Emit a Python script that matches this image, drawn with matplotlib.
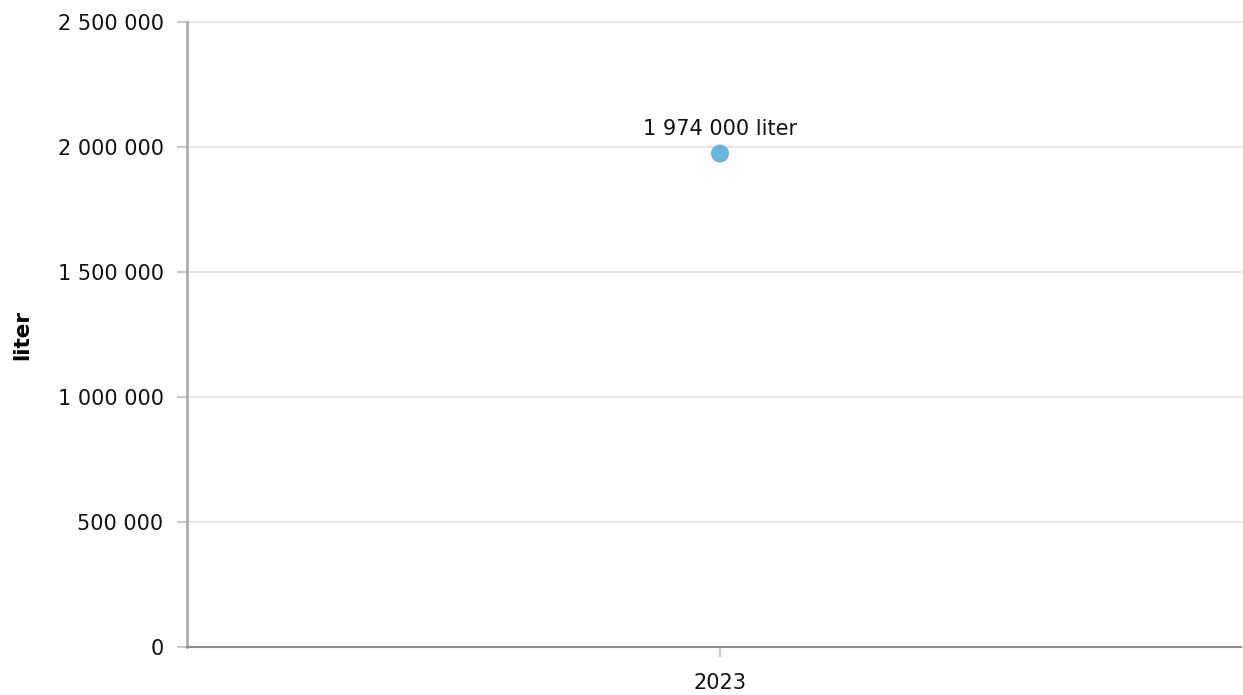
import matplotlib
matplotlib.use("Agg")
import matplotlib.pyplot as plt
from matplotlib.ticker import FuncFormatter

categories = ["2023"]
values = [1974000]
unit = "liter"
y_ticks = [0, 500000, 1000000, 1500000, 2000000, 2500000]

def fmt(v):
    return f"{int(v):,}".replace(",", " ")

plt.rcParams['font.family'] = ['DejaVu Sans']
fig = plt.figure(figsize=(12.43, 6.95), dpi=100)
W, H = 1243, 695
ax = fig.add_axes([187 / W, (H - 647) / H, (1241 - 187) / W, (647 - 22) / H])

x = list(range(len(categories)))
ax.scatter(x, values, s=(13.0) ** 2, color="#6bb5dc", zorder=3, edgecolors="none")
for xi, v in zip(x, values):
    ax.annotate(f"{fmt(v)} {unit}", (xi, v), xytext=(0, 13.5), textcoords="offset points",
                ha="center", va="baseline", fontsize=15, color="#111111")

ax.set_xlim(-0.5057, 0.4943)
ax.set_ylim(0, 2500000)
ax.set_yticks(y_ticks)
ax.yaxis.set_major_formatter(FuncFormatter(lambda v, p: fmt(v)))
ax.set_xticks(x)
ax.set_xticklabels(categories)
ax.grid(axis="y", color="#e6e6e6", linewidth=1.5)
for gl in ax.get_ygridlines():
    gl.set_clip_on(False)
ax.set_axisbelow(True)
for s in ["top", "right"]:
    ax.spines[s].set_visible(False)
ax.spines["left"].set_color("#a6a6a6")
ax.spines["left"].set_linewidth(1.8)
ax.spines["bottom"].set_color("#8c8c8c")
ax.spines["bottom"].set_linewidth(1.5)
ax.tick_params(axis="y", length=7.5, width=1.5, color="#c8c8c8", labelsize=15, pad=9.4, labelcolor="#111111")
ax.tick_params(axis="x", length=7.5, width=1.5, color="#c8c8c8", labelsize=15, pad=11, labelcolor="#111111")
ax.set_ylabel(unit, fontsize=15.5, fontweight="bold", labelpad=0)
ax.yaxis.set_label_coords(-(187 - 32) / 1054, 0.5)

fig.savefig("out.png", dpi=100)
